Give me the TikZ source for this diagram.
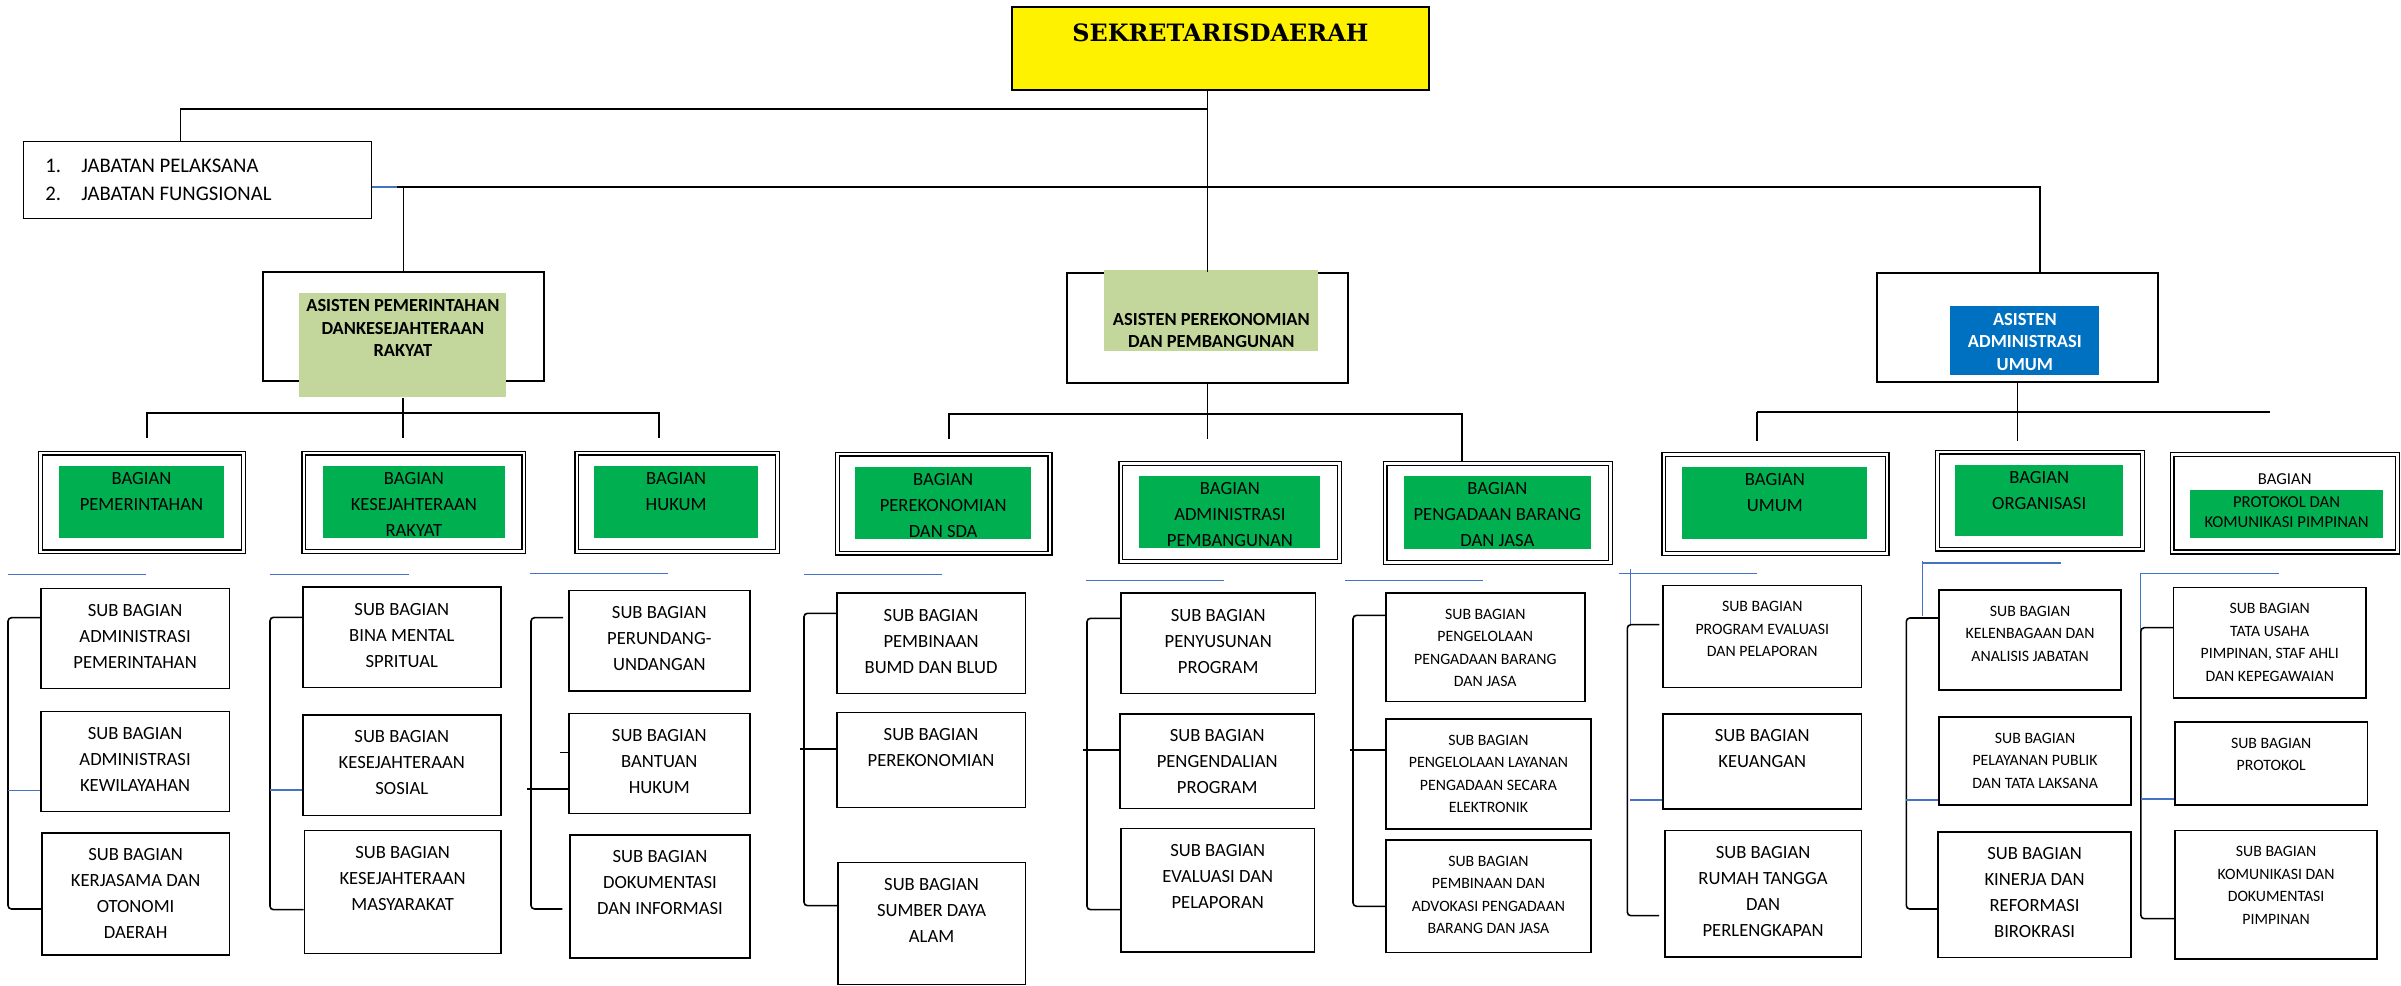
\documentclass[tikz,border=0pt]{standalone}
\usepackage{fontspec}
\setmainfont{Carlito}
\newfontfamily\titlefont{DejaVu Serif}
\usetikzlibrary{calc}
\definecolor{bggreen}{HTML}{00B050}
\definecolor{asgreen}{HTML}{C3D69B}
\definecolor{asblue}{HTML}{0070C0}
\definecolor{lnblue}{HTML}{4472C4}
\newcommand{\normsub}{\fontsize{10.6}{14.8}\selectfont}
\newcommand{\smallsub}{\fontsize{9}{12.8}\selectfont}

\begin{document}
\begin{tikzpicture}[x=0.02cm, y=-0.02cm]
  \tikzset{wh/.style 2 args={minimum width=#1*0.02cm, minimum height=#2*0.02cm},
    plain/.style={anchor=north west, inner sep=0pt},
    subbox/.style={plain, draw, line width=0.9pt},
    subtext/.style={anchor=north, yshift=-0.33cm, align=center, inner sep=0pt, font=\normsub},
    subsmall/.style={subtext, font=\smallsub},
    frame/.style={plain, draw, double, line width=0.7pt, double distance=1.5pt},
    bagian/.style={plain, fill=bggreen},
    bagtext/.style={anchor=north, yshift=-0.12cm, align=center, inner sep=0pt, font=\normsub},
    asbox/.style={plain, draw, line width=0.9pt},
    astext/.style={anchor=north, align=center, inner sep=0pt, font=\bfseries\fontsize{10.5}{12.8}\selectfont},
    bar/.style={line width=0.9pt},
    hook/.style={line width=0.9pt, rounded corners=2pt},
    blueline/.style={draw=lnblue, line width=0.7pt}}
  \useasboundingbox (0,0) rectangle (2401,986);

  % Top
  \node[plain, draw, line width=1pt, fill=yellow, wh={417}{83},
    label={[anchor=north, yshift=-0.34cm, inner sep=0pt, font=\titlefont\bfseries\fontsize{13.6}{16}\selectfont]north:SEKRETARISDAERAH}] (sekda) at (1011,6) {};
  \node[plain, draw, line width=0.75pt, wh={348}{77},
    label={[anchor=north west, xshift=0.44cm, yshift=-0.356cm, align=left, inner sep=0pt, font=\fontsize{11.8}{15.8}\selectfont]north west:\makebox[0.72cm][l]{1.}JABATAN PELAKSANA\\\makebox[0.72cm][l]{2.}JABATAN FUNGSIONAL}] (jab) at (23,141) {};

  % Asisten
  \node[asbox, wh={281}{109}] (asA) at (262,271) {};
  \node[plain, fill=asgreen, wh={207}{104},
    label={[astext, yshift=-0.13cm]north:ASISTEN PEMERINTAHAN\\DANKESEJAHTERAAN\\RAKYAT}] (asAf) at (299,293) {};
  \node[asbox, wh={281}{110}] (asB) at (1066,272) {};
  \node[plain, fill=asgreen, wh={214}{81},
    label={[astext, yshift=-0.86cm]north:ASISTEN PEREKONOMIAN\\DAN PEMBANGUNAN}] (asBf) at (1104,270) {};
  \node[asbox, wh={281}{109}] (asC) at (1876,272) {};
  \node[plain, fill=asblue, wh={149}{69},
    label={[astext, text=white, yshift=-0.135cm]north:ASISTEN\\ADMINISTRASI\\UMUM}] (asCf) at (1950,306) {};

  % Top connectors
  \coordinate (t0) at (1207,109);
  \coordinate (t1) at (397,187);
  \coordinate (t2) at (2040,187);
  \draw[bar] (sekda.south -| asB.north) -- (asB.north);
  \draw[bar] (t0) -| ([xshift=-0.34cm]jab.north);
  \draw[blueline] (jab.east |- t1) -- (t1);
  \draw[bar] (t1) -- (t2) -- (t2 |- asC.north);
  \draw[bar] (t1 -| asA.north) -- (asA.north);

  % Bagian
  \node[frame, wh={203}{98.8}] (fA1) at (40,452.5) {};
  \node[bagian, wh={164.8}{71.7}, label={[bagtext]north:BAGIAN\\PEMERINTAHAN}] (bA1) at (58.7,466) {};
  \node[frame, wh={220}{98.5}] (fA2) at (303.2,452.5) {};
  \node[bagian, wh={182.2}{71.7}, label={[bagtext]north:BAGIAN\\KESEJAHTERAAN\\RAKYAT}] (bA2) at (322.4,466) {};
  \node[frame, wh={200.6}{98.5}] (fA3) at (576.2,452.5) {};
  \node[bagian, wh={163.6}{71.7}, label={[bagtext]north:BAGIAN\\HUKUM}] (bA3) at (594,466) {};
  \node[frame, wh={212.4}{99}] (fB1) at (837,453.5) {};
  \node[bagian, wh={175.6}{71.7}, label={[bagtext]north:BAGIAN\\PEREKONOMIAN\\DAN SDA}] (bB1) at (855,467) {};
  \node[frame, wh={218.6}{98.2}] (fB2) at (1120.2,463) {};
  \node[bagian, wh={181}{71.7}, label={[bagtext]north:BAGIAN\\ADMINISTRASI\\PEMBANGUNAN}] (bB2) at (1139,476) {};
  \node[frame, wh={225.6}{98.6}] (fB3) at (1384.5,463.2) {};
  \node[bagian, wh={187.4}{72.6}, label={[bagtext]north:BAGIAN\\PENGADAAN BARANG\\DAN JASA}] (bB3) at (1403.3,475.7) {};
  \node[frame, wh={223.3}{98.6}] (fC1) at (1663.2,454) {};
  \node[bagian, wh={185}{72}, label={[bagtext]north:BAGIAN\\UMUM}] (bC1) at (1682,467) {};
  \node[frame, wh={205}{97}] (fC2) at (1937,451.5) {};
  \node[bagian, wh={167.7}{70.7}, label={[bagtext]north:BAGIAN\\ORGANISASI}] (bC2) at (1955,465) {};
  \node[frame, wh={225.3}{97.4},
    label={[anchor=north, yshift=-0.38cm, inner sep=0pt, font=\fontsize{9.5}{11.2}\selectfont]north:BAGIAN}] (fC3) at (2171.5,454) {};
  \node[bagian, wh={192.3}{48},
    label={[bagtext, yshift=-0.02cm, font=\fontsize{9.5}{11.2}\selectfont]north:PROTOKOL DAN\\KOMUNIKASI PIMPINAN}] (bC3) at (2190,489.3) {};

  % Asisten to bagian
  \coordinate (pA) at (403,413);
  \coordinate (dA1) at (147,438);
  \coordinate (dA3) at (659,438);
  \draw[bar] (asAf.south) -- (asAf.south |- dA1);
  \draw[bar] (dA1) |- (pA) -| (dA3);
  \coordinate (pB) at (1207,414);
  \coordinate (dB1) at (949,439);
  \coordinate (dB3) at (1462,461);
  \draw[bar] (asB.south) -- (asB.south |- dB1);
  \draw[bar] (dB1) |- (pB) -| (dB3);
  \coordinate (cL) at (1757,412);
  \coordinate (cR) at (2270,412);
  \coordinate (dC1) at (1757,441);
  \draw[bar] (cL) -- (cR);
  \draw[bar] (cL) -- (dC1);
  \draw[bar] (asC.south) -- (asC.south |- dC1);

  % Sub bagian - Pemerintahan
  \node[subbox, wh={188.6}{100}, label={[subtext]north:SUB BAGIAN\\ADMINISTRASI\\PEMERINTAHAN}] (sA11) at (40,587.7) {};
  \node[subbox, wh={188.6}{100}, label={[subtext]north:SUB BAGIAN\\ADMINISTRASI\\KEWILAYAHAN}] (sA12) at (40,710.7) {};
  \node[subbox, wh={187.6}{122}, label={[subtext]north:SUB BAGIAN\\KERJASAMA DAN\\OTONOMI\\DAERAH}] (sA13) at (41,832) {};
  \draw[blueline] ($(sA11.north west)+(-32,-13)$) -- ++(138,0);
  \draw[hook] ($(sA11.north west)+(0,30)$) -- ++(-32,0) |- ($(sA13.north west)+(0,77)$);
  \draw[blueline] ($(sA12.north west)+(0,80)$) -- ++(-32,0);

  % Sub bagian - Kesejahteraan Rakyat
  \node[subbox, wh={198}{100.4}, label={[subtext]north:SUB BAGIAN\\BINA MENTAL\\SPRITUAL}] (sA21) at (302,586.3) {};
  \node[subbox, wh={198}{100.7}, label={[subtext]north:SUB BAGIAN\\KESEJAHTERAAN\\SOSIAL}] (sA22) at (302,714) {};
  \node[subbox, wh={196.4}{123}, label={[subtext]north:SUB BAGIAN\\KESEJAHTERAAN\\MASYARAKAT}] (sA23) at (303.6,829.7) {};
  \draw[blueline] ($(sA21.north west)+(-32,-12)$) -- ++(139,0);
  \draw[hook] ($(sA21.north west)+(0,31)$) -- ++(-32,0) |- ($(sA23.north west)+(0,80)$);
  \draw[blueline] ($(sA22.north west)+(0,76)$) -- ++(-32,0);

  % Sub bagian - Hukum
  \node[subbox, wh={181}{100.3}, label={[subtext]north:SUB BAGIAN\\PERUNDANG-\\UNDANGAN}] (sA31) at (568,589.7) {};
  \node[subbox, wh={181}{100}, label={[subtext]north:SUB BAGIAN\\BANTUAN\\HUKUM}] (sA32) at (568,712.7) {};
  \node[subbox, wh={179.6}{123.3}, label={[subtext]north:SUB BAGIAN\\DOKUMENTASI\\DAN INFORMASI}] (sA33) at (569.4,834) {};
  \draw[blueline] ($(sA31.north west)+(-38,-16)$) -- ++(138,0);
  \draw[hook] ($(sA31.north west)+(-5,28)$) -- ++(-32,0) |- ($(sA33.north west)+(-7,75)$);
  \draw[bar, line width=1.1pt] ($(sA32.north west)+(0,76)$) -- ++(-41.5,0);
  \draw[bar] ($(sA32.north west)+(0,40)$) -- ++(-8,0);

  % Sub bagian - Perekonomian dan SDA
  \node[subbox, wh={188.5}{100.4}, label={[subtext]north:SUB BAGIAN\\PEMBINAAN\\BUMD DAN BLUD}] (sB11) at (836,592.3) {};
  \node[subbox, wh={188.5}{95}, label={[subtext]north:SUB BAGIAN\\PEREKONOMIAN}] (sB12) at (836,711.7) {};
  \node[subbox, wh={187.5}{122}, label={[subtext]north:SUB BAGIAN\\SUMBER DAYA\\ALAM}] (sB13) at (837,861.7) {};
  \draw[blueline] ($(sB11.north west)+(-32,-18)$) -- ++(138,0);
  \draw[hook] ($(sB11.north west)+(0,21)$) -- ++(-32,0) |- ($(sB13.north west)+(0,44)$);
  \draw[bar, line width=1.1pt] ($(sB12.north west)+(0,37)$) -- ++(-36,0);

  % Sub bagian - Administrasi Pembangunan
  \node[subbox, wh={194.8}{100.4}, label={[subtext]north:SUB BAGIAN\\PENYUSUNAN\\PROGRAM}] (sB21) at (1120,592.3) {};
  \node[subbox, wh={194.8}{94.7}, label={[subtext]north:SUB BAGIAN\\PENGENDALIAN\\PROGRAM}] (sB22) at (1119,713) {};
  \node[subbox, wh={193.8}{123.3}, label={[subtext]north:SUB BAGIAN\\EVALUASI DAN\\PELAPORAN}] (sB23) at (1120,827.7) {};
  \draw[blueline] ($(sB21.north west)+(-34,-12)$) -- ++(138,0);
  \draw[hook] ($(sB21.north west)+(0,26)$) -- ++(-33,0) |- ($(sB23.north west)+(0,82)$);
  \draw[bar, line width=1.1pt] ($(sB22.north west)+(0,37)$) -- ++(-36,0);

  % Sub bagian - Pengadaan Barang dan Jasa
  \node[subbox, wh={199}{108.4}, label={[subsmall]north:SUB BAGIAN\\PENGELOLAAN\\PENGADAAN BARANG\\DAN JASA}] (sB31) at (1385,592.3) {};
  \node[subbox, wh={205.3}{109.7}, label={[subsmall]north:SUB BAGIAN\\PENGELOLAAN LAYANAN\\PENGADAAN SECARA\\ELEKTRONIK}] (sB32) at (1385,718.3) {};
  \node[subbox, wh={205.3}{112.4}, label={[subsmall]north:SUB BAGIAN\\PEMBINAAN DAN\\ADVOKASI PENGADAAN\\BARANG DAN JASA}] (sB33) at (1385,839.3) {};
  \draw[blueline] ($(sB31.north west)+(-40,-12)$) -- ++(138,0);
  \draw[hook] ($(sB31.north west)+(0,23)$) -- ++(-32,0) |- ($(sB33.north west)+(0,67)$);
  \draw[bar, line width=1.1pt] ($(sB32.north west)+(0,32)$) -- ++(-35.5,0);

  % Sub bagian - Umum
  \node[subbox, wh={198.3}{102}, label={[subsmall]north:SUB BAGIAN\\PROGRAM EVALUASI\\DAN PELAPORAN}] (sC11) at (1662.3,584.7) {};
  \node[subbox, wh={198.3}{95.3}, label={[subtext]north:SUB BAGIAN\\KEUANGAN}] (sC12) at (1662.3,713) {};
  \node[subbox, wh={196.6}{126.3}, label={[subtext]north:SUB BAGIAN\\RUMAH TANGGA\\DAN\\PERLENGKAPAN}] (sC13) at (1664,829.7) {};
  \draw[blueline] ($(sC11.north west)+(-43,-11)$) -- ++(138,0);
  \draw[blueline] ($(sC11.north west)+(-32,-16)$) -- ++(0,56);
  \draw[hook] ($(sC11.north west)+(-3,40)$) -- ++(-32,0) |- ($(sC13.north west)+(-5,86)$);
  \draw[blueline] ($(sC12.north west)+(0,87)$) -- ++(-32,0);

  % Sub bagian - Organisasi
  \node[subbox, wh={182}{100}, label={[subsmall]north:SUB BAGIAN\\KELENBAGAAN DAN\\ANALISIS JABATAN}] (sC21) at (1938.3,589) {};
  \node[subbox, wh={192}{88.3}, label={[subsmall]north:SUB BAGIAN\\PELAYANAN PUBLIK\\DAN TATA LAKSANA}] (sC22) at (1938.3,716) {};
  \node[subbox, wh={193}{125.7}, label={[subtext]north:SUB BAGIAN\\KINERJA DAN\\REFORMASI\\BIROKRASI}] (sC23) at (1937.3,831) {};
  \draw[blueline] ($(sC21.north west)+(-16,-26)$) -- ++(139,0);
  \draw[blueline] ($(sC21.north west)+(-16,-28)$) -- ++(0,55);
  \draw[hook] ($(sC21.north west)+(0,29)$) -- ++(-32,0) |- ($(sC23.north west)+(0,78)$);
  \draw[blueline] ($(sC22.north west)+(0,84)$) -- ++(-32,0);

  % Sub bagian - Protokol dan Komunikasi Pimpinan
  \node[subbox, wh={192.2}{110.6}, label={[subsmall]north:SUB BAGIAN\\TATA USAHA\\PIMPINAN, STAF AHLI\\DAN KEPEGAWAIAN}] (sC31) at (2172.8,586.7) {};
  \node[subbox, wh={192.2}{83.3}, label={[subsmall]north:SUB BAGIAN\\PROTOKOL}] (sC32) at (2174.3,721) {};
  \node[subbox, wh={202}{128.6}, label={[subsmall]north:SUB BAGIAN\\KOMUNIKASI DAN\\DOKUMENTASI\\PIMPINAN}] (sC33) at (2174.3,829.7) {};
  \draw[blueline] ($(sC31.north west)+(-32,-13)$) -- ++(138,0);
  \draw[blueline] ($(sC31.north west)+(-32,-14)$) -- ++(0,57);
  \draw[hook] ($(sC31.north west)+(0,41)$) -- ++(-32,0) |- ($(sC33.north west)+(0,89)$);
  \draw[blueline] ($(sC32.north west)+(0,78)$) -- ++(-33,0);
\end{tikzpicture}
\end{document}
